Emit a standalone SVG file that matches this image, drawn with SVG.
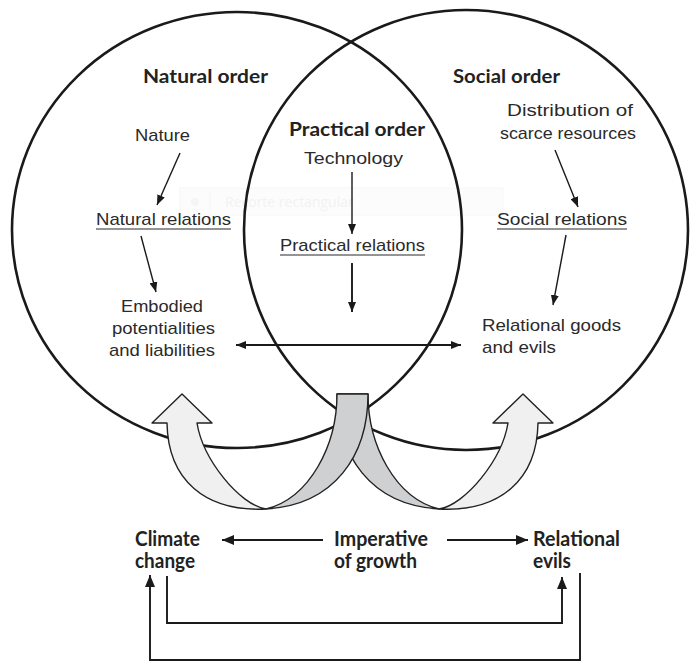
<svg xmlns="http://www.w3.org/2000/svg" width="691" height="663" viewBox="0 0 691 663">
  <style>
    .ring { fill: none; stroke: #1a1a1a; stroke-width: 2.6; }
    .lbl { font-family: "Liberation Sans", Arial, sans-serif; font-size: 17px; fill: #2a2a2a; }
    .head { font-family: Lato, "Liberation Sans", sans-serif; font-weight: bold; font-size: 19px; fill: #222; }
    .foot { font-family: Lato, "Liberation Sans", sans-serif; font-weight: bold; font-size: 20px; fill: #222; }
    .ul { stroke: #2a2a2a; stroke-width: 1.2; }
    .conn { fill: none; stroke: #1a1a1a; stroke-width: 1.4; }
    .conn2 { fill: none; stroke: #1a1a1a; stroke-width: 1.9; }
    .ribbon { stroke: #222; stroke-width: 1.4; stroke-linejoin: round; }
    .pale { fill: #eff0ef; }
    .grey { fill: #cfd0d2; }
  </style>
  <defs>
    <marker id="tip" markerWidth="10" markerHeight="8" refX="10" refY="4" orient="auto-start-reverse" markerUnits="userSpaceOnUse">
      <path d="M0,0 L10,4 L0,8 Z" fill="#1a1a1a"/>
    </marker>
    <marker id="tipL" markerWidth="12" markerHeight="10" refX="12" refY="5" orient="auto-start-reverse" markerUnits="userSpaceOnUse">
      <path d="M0,0 L12,5 L0,10 Z" fill="#1a1a1a"/>
    </marker>
  </defs>

  <rect width="691" height="663" fill="#ffffff"/>

  <!-- faint screen-capture hint box -->
  <g id="capture-hint" opacity="0.5">
    <rect x="180" y="188" width="323" height="27" fill="#fbfbfb" stroke="#f0f0f0" stroke-width="1"/>
    <circle cx="195" cy="202" r="4" fill="#ececec"/>
    <line x1="210" y1="190" x2="210" y2="213" stroke="#eeeeee"/>
    <text x="225" y="207" font-family="'Open Sans', 'Liberation Sans', sans-serif" font-size="14px" fill="#e6e6e6">Recorte rectangular</text>
  </g>

  <!-- the two overlapping orders -->
  <g id="natural-order">
    <ellipse class="ring" cx="237" cy="230" rx="225" ry="218"/>
  </g>
  <g id="social-order">
    <ellipse class="ring" cx="466" cy="230" rx="222" ry="220"/>
  </g>

  <!-- connectors -->
  <g id="connectors">
    <line class="conn" x1="180" y1="153" x2="157" y2="205" marker-end="url(#tip)"/>
    <line class="conn" x1="141" y1="236" x2="156" y2="292" marker-end="url(#tip)"/>
    <line class="conn" x1="352" y1="172" x2="352" y2="234" marker-end="url(#tip)"/>
    <line class="conn2" x1="352" y1="263" x2="352" y2="312" marker-end="url(#tip)"/>
    <line class="conn" x1="555" y1="150" x2="578" y2="207" marker-end="url(#tip)"/>
    <line class="conn" x1="566" y1="235" x2="553" y2="305" marker-end="url(#tip)"/>
    <line class="conn2" x1="236" y1="345" x2="461" y2="345" marker-start="url(#tip)" marker-end="url(#tip)"/>

    <line class="conn2" x1="323" y1="540" x2="222" y2="540" marker-end="url(#tipL)"/>
    <line class="conn2" x1="447" y1="540" x2="528" y2="540" marker-end="url(#tipL)"/>
    <path class="conn2" d="M167,576 V623 H562 V577" marker-end="url(#tipL)"/>
    <path class="conn2" d="M580,573 V660 H150 V575" marker-end="url(#tipL)"/>
  </g>

  <!-- twisted ribbon arrows rising from the imperative of growth -->
  <g id="growth-ribbons">
    <path class="ribbon grey" d="M337,394 L368,394 C368,445 395,498 439,509 C370,505 337,455 337,394 Z"/>
    <path class="ribbon pale" d="M538,423 L553,423 L523,394 L493,423 L508,423 C502,460 465,505 439,509 C500,512 537,480 538,423 Z"/>
    <path class="ribbon pale" d="M167,423 L152,423 L182,394 L212,423 L197,423 C203,460 240,505 266,509 C205,512 168,480 167,423 Z"/>
    <path class="ribbon grey" d="M337,394 L368,394 C368,455 335,505 266,509 C310,498 337,445 337,394 Z"/>
  </g>

  <!-- headings -->
  <g id="heading-natural"><text class="head" x="143" y="83" textLength="125" lengthAdjust="spacingAndGlyphs">Natural order</text></g>
  <g id="heading-social"><text class="head" x="453" y="83" textLength="107" lengthAdjust="spacingAndGlyphs">Social order</text></g>
  <g id="heading-practical"><text class="head" x="289" y="136" textLength="136" lengthAdjust="spacingAndGlyphs">Practical order</text></g>

  <!-- natural column -->
  <g id="nature"><text class="lbl" x="135" y="141" textLength="55" lengthAdjust="spacingAndGlyphs">Nature</text></g>
  <g id="natural-relations">
    <text class="lbl" x="96" y="225" textLength="135" lengthAdjust="spacingAndGlyphs">Natural relations</text>
    <line class="ul" x1="96" y1="229" x2="231" y2="229"/>
  </g>
  <g id="embodied">
    <text class="lbl" x="121" y="312" textLength="82" lengthAdjust="spacingAndGlyphs">Embodied</text>
    <text class="lbl" x="112" y="334" textLength="103" lengthAdjust="spacingAndGlyphs">potentialities</text>
    <text class="lbl" x="109" y="356" textLength="106" lengthAdjust="spacingAndGlyphs">and liabilities</text>
  </g>

  <!-- practical column -->
  <g id="technology"><text class="lbl" x="304" y="164" textLength="99" lengthAdjust="spacingAndGlyphs">Technology</text></g>
  <g id="practical-relations">
    <text class="lbl" x="280" y="251" textLength="145" lengthAdjust="spacingAndGlyphs">Practical relations</text>
    <line class="ul" x1="280" y1="255" x2="425" y2="255"/>
  </g>

  <!-- social column -->
  <g id="distribution">
    <text class="lbl" x="507" y="116" textLength="126" lengthAdjust="spacingAndGlyphs">Distribution of</text>
    <text class="lbl" x="500" y="139" textLength="136" lengthAdjust="spacingAndGlyphs">scarce resources</text>
  </g>
  <g id="social-relations">
    <text class="lbl" x="497" y="225" textLength="130" lengthAdjust="spacingAndGlyphs">Social relations</text>
    <line class="ul" x1="497" y1="229" x2="627" y2="229"/>
  </g>
  <g id="relational-goods">
    <text class="lbl" x="482" y="331" textLength="139" lengthAdjust="spacingAndGlyphs">Relational goods</text>
    <text class="lbl" x="482" y="353" textLength="74" lengthAdjust="spacingAndGlyphs">and evils</text>
  </g>

  <!-- bottom row -->
  <g id="climate-change">
    <text class="foot" x="135" y="546" textLength="65" lengthAdjust="spacingAndGlyphs">Climate</text>
    <text class="foot" x="135" y="568" textLength="60" lengthAdjust="spacingAndGlyphs">change</text>
  </g>
  <g id="imperative-of-growth">
    <text class="foot" x="334" y="546" textLength="94" lengthAdjust="spacingAndGlyphs">Imperative</text>
    <text class="foot" x="334" y="568" textLength="83" lengthAdjust="spacingAndGlyphs">of growth</text>
  </g>
  <g id="relational-evils">
    <text class="foot" x="533" y="546" textLength="87" lengthAdjust="spacingAndGlyphs">Relational</text>
    <text class="foot" x="533" y="568" textLength="38" lengthAdjust="spacingAndGlyphs">evils</text>
  </g>
</svg>
